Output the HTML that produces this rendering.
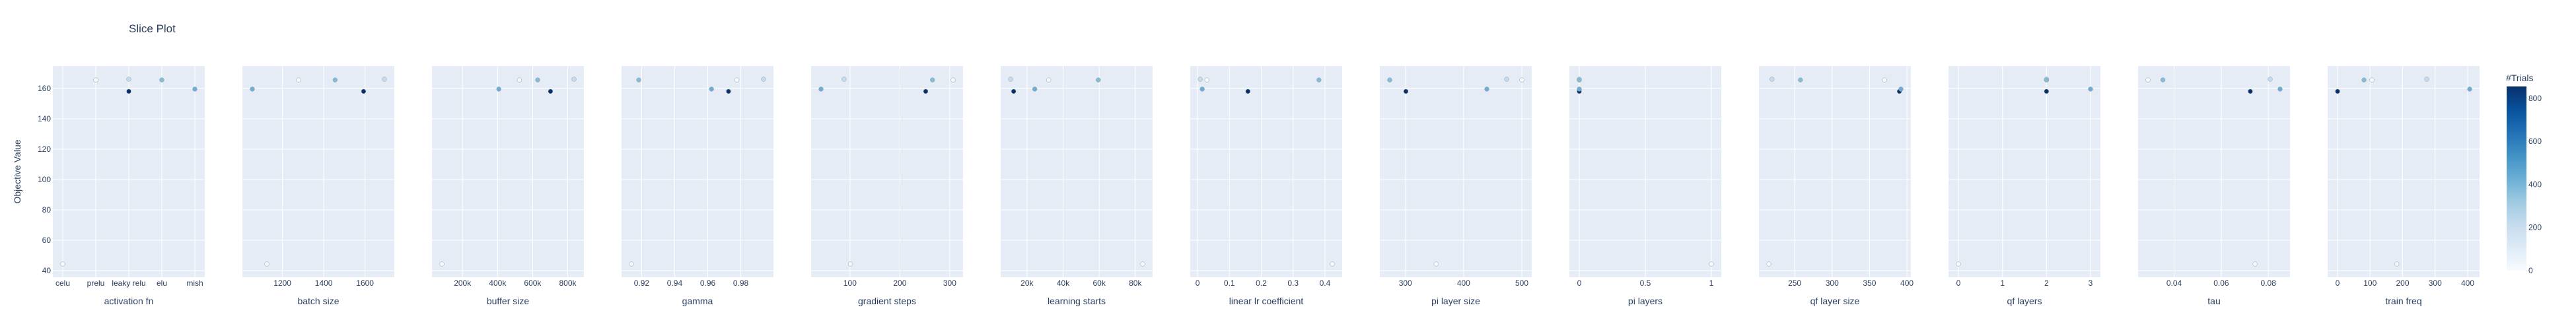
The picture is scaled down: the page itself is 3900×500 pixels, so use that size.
<!DOCTYPE html>
<html><head><meta charset="utf-8"><title>Slice Plot</title>
<style>
html,body{margin:0;padding:0;background:#fff;}
svg{display:block;font-family:"Liberation Sans",sans-serif;}
</style></head>
<body>
<svg id="chart" width="3900" height="500" viewBox="0 0 3900 500" xmlns="http://www.w3.org/2000/svg">
<defs>
<linearGradient id="blues" x1="0" y1="1" x2="0" y2="0">
<stop offset="0" stop-color="rgb(247,251,255)"/>
<stop offset="0.125" stop-color="rgb(222,235,247)"/>
<stop offset="0.25" stop-color="rgb(198,219,239)"/>
<stop offset="0.375" stop-color="rgb(158,202,225)"/>
<stop offset="0.5" stop-color="rgb(107,174,214)"/>
<stop offset="0.625" stop-color="rgb(66,146,198)"/>
<stop offset="0.75" stop-color="rgb(33,113,181)"/>
<stop offset="0.875" stop-color="rgb(8,81,156)"/>
<stop offset="1" stop-color="rgb(8,48,107)"/>
</linearGradient>
</defs>
<text x="195" y="49" font-size="17" fill="#2a3f5f">Slice Plot</text>
<text x="0" y="0" transform="translate(31,260) rotate(-90)" text-anchor="middle" font-size="14" fill="#2a3f5f">Objective Value</text>
<g id="panels"></g>
<g id="colorbar"></g>
</svg>
<script>
// ---- data ----
const paramNames = ["activation fn","batch size","buffer size","gamma","gradient steps","learning starts","linear lr coefficient","pi layer size","pi layers","qf layer size","qf layers","tau","train freq"];
const objectiveValues = [165.5, 166, 158, 165.5, 159.5, 44.4];
const trialCounts = [10, 214, 855, 375, 428, 0];
const activationCategories = ["celu","prelu","leaky relu","elu","mish"];
const activationFn = [1, 2, 2, 3, 4, 0];
const batchSize = [1278, 1694, 1593, 1455, 1054, 1124];
const bufferSize = [524.5e3, 835.7e3, 701.7e3, 628.7e3, 406.9e3, 82.4e3];
const gamma = [0.97762, 0.99377, 0.97256, 0.91826, 0.96226, 0.91383];
const gradientSteps = [306.8, 88, 251.8, 265.4, 41.9, 101];
const learningStarts = [32.0e3, 10.9e3, 12.6e3, 59.5e3, 24.3e3, 84.1e3];
const linearLrCoefficient = [0.0295, 0.0082, 0.1582, 0.3811, 0.0148, 0.4230];
const piLayerSize = [500, 474, 300.9, 273.1, 439.9, 352.9];
const piLayers = [0, 0, 0, 0, 0, 1];
const qfLayerSize = [370, 219.7, 389.9, 257.7, 392, 215.5];
const qfLayers = [2, 2, 2, 2, 3, 0];
const tau = [0.02892, 0.08077, 0.07235, 0.03524, 0.08498, 0.07435];
const trainFreq = [105.6, 274.1, 0, 81.2, 406.1, 182.1];
const yTicks = [40, 60, 80, 100, 120, 140, 160];
const xTickValues = [
  [0,1,2,3,4],
  [1200,1400,1600],
  [200e3,400e3,600e3,800e3],
  [0.92,0.94,0.96,0.98],
  [100,200,300],
  [20e3,40e3,60e3,80e3],
  [0,0.1,0.2,0.3,0.4],
  [300,400,500],
  [0,0.5,1],
  [250,300,350,400],
  [0,1,2,3],
  [0.04,0.06,0.08],
  [0,100,200,300,400]
];
const xTickLabels = [
  activationCategories,
  ["1200","1400","1600"],
  ["200k","400k","600k","800k"],
  ["0.92","0.94","0.96","0.98"],
  ["100","200","300"],
  ["20k","40k","60k","80k"],
  ["0","0.1","0.2","0.3","0.4"],
  ["300","400","500"],
  ["0","0.5","1"],
  ["250","300","350","400"],
  ["0","1","2","3"],
  ["0.04","0.06","0.08"],
  ["0","100","200","300","400"]
];
const colorbarTicks = [0, 200, 400, 600, 800];
const paramSeries = [activationFn,batchSize,bufferSize,gamma,gradientSteps,learningStarts,linearLrCoefficient,piLayerSize,piLayers,qfLayerSize,qfLayers,tau,trainFreq];

// ---- layout ----
const NS = "http://www.w3.org/2000/svg";
const P0 = 80, PSTEP = 287, PW = 230, PT = 100, PB = 420;
const XPAD = 15, YPAD = 20;
const blues = [[0,[247,251,255]],[0.125,[222,235,247]],[0.25,[198,219,239]],[0.375,[158,202,225]],[0.5,[107,174,214]],[0.625,[66,146,198]],[0.75,[33,113,181]],[0.875,[8,81,156]],[1,[8,48,107]]];
const cMax = Math.max(...trialCounts);
function colorOf(v){
  let t = cMax ? v / cMax : 0; t = Math.max(0, Math.min(1, t));
  for (let i = 1; i < blues.length; i++) {
    if (t <= blues[i][0]) {
      const a = blues[i-1], b = blues[i], f = (t - a[0]) / (b[0] - a[0]);
      const c = a[1].map((x, k) => Math.round(x + (b[1][k] - x) * f));
      return "rgb(" + c.join(",") + ")";
    }
  }
  return "rgb(8,48,107)";
}
function mk(tag, attrs, parent){
  const e = document.createElementNS(NS, tag);
  for (const k in attrs) e.setAttribute(k, attrs[k]);
  parent.appendChild(e); return e;
}
function padRange(vals, padPx, lenPx){
  const mn = Math.min(...vals), mx = Math.max(...vals);
  const span = (mx - mn) || 1;
  const k = span * padPx / (lenPx - 2 * padPx);
  return [mn - k, mx + k];
}
const yr = padRange(objectiveValues, YPAD, PB - PT);
function yScale(v){ return PB - (v - yr[0]) / (yr[1] - yr[0]) * (PB - PT); }

const panels = document.getElementById("panels");
paramSeries.forEach((xs, pi) => {
  const L = P0 + pi * PSTEP;
  const xr = pi === 0 ? padRange([0, activationCategories.length - 1], XPAD, PW) : padRange(xs, XPAD, PW);
  const xScale = v => L + (v - xr[0]) / (xr[1] - xr[0]) * PW;
  const g = mk("g", {}, panels);
  
  
  const bg = mk("rect", {x: L, y: PT, width: PW, height: PB - PT, fill: "#e5ecf6"}, g);
  
  
  yTicks.forEach(t => {
    const y = yScale(t);
    const gl = mk("line", {x1: L, x2: L + PW, y1: y, y2: y, stroke: "#fff", "stroke-width": 1}, g);
    
    
    if (pi === 0) {
      const tl = mk("text", {x: L - 3, y: y + 4, "text-anchor": "end", "font-size": 12, fill: "#2a3f5f"}, g);
      tl.textContent = t;
      
      
    }
  });
  xTickValues[pi].forEach((t, i) => {
    const x = xScale(t);
    const gl = mk("line", {x1: x, x2: x, y1: PT, y2: PB, stroke: "#fff", "stroke-width": 1}, g);
    
    
    const tl = mk("text", {x: x, y: 433, "text-anchor": "middle", "font-size": 12, fill: "#2a3f5f"}, g);
    tl.textContent = xTickLabels[pi][i];
    
    
  });
  const at = mk("text", {x: L + PW / 2, y: 461, "text-anchor": "middle", "font-size": 14, fill: "#2a3f5f"}, g);
  at.textContent = paramNames[pi];
  
  
  const clipId = "clip" + pi;
  const cp = mk("clipPath", {id: clipId}, g);
  mk("rect", {x: L, y: PT, width: PW, height: PB - PT}, cp);
  const pts = mk("g", {"clip-path": "url(#" + clipId + ")"}, g);
  xs.forEach((v, i) => {
    const c = mk("circle", {cx: xScale(v), cy: yScale(objectiveValues[i]), r: 3.4, fill: colorOf(trialCounts[i]), stroke: "#999", "stroke-width": 0.5}, pts);
    
    
  });
});

// colorbar
const cb = document.getElementById("colorbar");
const CBX = 3795, CBW = 30, CBT = 131, CBB = 410;
const cbt = mk("text", {x: CBX - 1, y: 123, "font-size": 14, fill: "#2a3f5f"}, cb);
cbt.textContent = "#Trials";


const cbr = mk("rect", {x: CBX, y: CBT, width: CBW, height: CBB - CBT, fill: "url(#blues)"}, cb);


colorbarTicks.forEach(t => {
  const y = CBB - t / cMax * (CBB - CBT);
  const tl = mk("text", {x: CBX + CBW + 3, y: y + 4, "font-size": 12, fill: "#2a3f5f"}, cb);
  tl.textContent = t;
  
  
});
</script>
</body></html>
